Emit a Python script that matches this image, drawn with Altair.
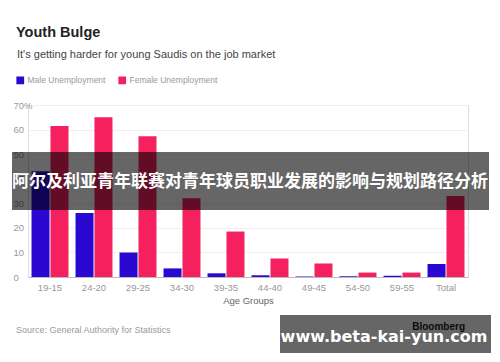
import altair as alt
import pandas as pd

categories = ["19-15", "24-20", "29-25", "34-30", "39-35", "44-40", "49-45", "54-50", "59-55", "Total"]
male = [43, 26, 10, 3.5, 1.5, 0.7, 0.2, 0.3, 0.5, 5.3]
female = [61.5, 65, 57.3, 32, 18.5, 7.5, 5.5, 1.8, 1.8, 33]
series_names = ["Male Unemployment", "Female Unemployment"]
series_colors = ["#2a08d2", "#f5215e"]
y_ticks = [0, 10, 20, 30, 40, 50, 60, 70]

rows = []
for i, c in enumerate(categories):
    rows.append({"age": c, "series": series_names[0], "value": male[i]})
    rows.append({"age": c, "series": series_names[1], "value": female[i]})
df = pd.DataFrame(rows)

FONT = "Liberation Sans"

bars = alt.Chart(df).mark_bar().encode(
    x=alt.X("age:N", sort=categories,
            scale=alt.Scale(paddingInner=0.16, paddingOuter=0.08),
            axis=alt.Axis(title="Age Groups", labelAngle=0, tickSize=0, ticks=False,
                          labelPadding=5, labelFontSize=9.5, labelColor="#999",
                          titleFontSize=9.5, titleFontWeight="normal", titleColor="#666",
                          titlePadding=4, domainColor="#bbb", grid=False)),
    xOffset=alt.XOffset("series:N", sort=series_names, scale=alt.Scale(paddingInner=0.05)),
    y=alt.Y("value:Q", scale=alt.Scale(domain=[0, 70], nice=False),
            axis=alt.Axis(title=None, values=y_ticks, tickSize=0, ticks=False,
                          labelAlign="left", labelPadding=15, labelFontSize=9.5,
                          labelColor="#999", domain=False, gridColor="#f0f0f0",
                          labelExpr="datum.value == 70 ? '70%' : datum.label")),
    color=alt.Color("series:N", sort=series_names,
                    scale=alt.Scale(domain=series_names, range=series_colors),
                    legend=alt.Legend(orient="none", legendX=-12, legendY=-29,
                                      direction="horizontal", title=None,
                                      symbolType="square", symbolSize=60,
                                      symbolStrokeWidth=0, symbolOpacity=1,
                                      labelFontSize=8.5, labelColor="#999",
                                      labelOffset=3, columnPadding=12, padding=0)),
)

one = alt.Data(values=[{}])

def txt(text, x, y, size, color, weight="normal", align="left", font=FONT):
    return alt.Chart(one).mark_text(
        text=text, align=align, baseline="middle", fontSize=size, color=color,
        fontWeight=weight, font=font
    ).encode(x=alt.value(x), y=alt.value(y))

def box(x1, x2, y1, y2):
    return alt.Chart(one).mark_rect(color="black", opacity=0.6).encode(
        x=alt.value(x1), x2=alt.value(x2), y=alt.value(y1), y2=alt.value(y2))

title = txt("Youth Bulge", -12, -72, 14.5, "#222", weight="bold")
subtitle = txt("It's getting harder for young Saudis on the job market", -11, -50, 11, "#444")
source = txt("Source: General Authority for Statistics", -12, 225, 9, "#999")
bloomberg = txt("Bloomberg", 437, 222, 10, "#222", weight="bold", align="right")

banner = box(-16, 461, 47, 105)
banner_text = txt("阿尔及利亚青年联赛对青年球员职业发展的影响与规划路径分析", 222, 77, 17,
                  "white", weight="bold", align="center", font="Noto Sans CJK SC")
wm = box(252, 463, 210, 248)
wm_text = txt("www.beta-kai-yun.com", 356, 232, 16, "white", weight="bold",
              align="center", font="DejaVu Sans")

chart = alt.layer(
    bars, title, subtitle, source, bloomberg, banner, banner_text, wm, wm_text
).properties(
    width=440, height=172,
    autosize=alt.AutoSizeParams(type="none"),
    padding={"left": 28, "top": 105, "right": 32, "bottom": 85},
).configure_view(stroke=None).configure(font=FONT, background="white")

chart.save("out.html", embed_options={"renderer": "svg", "actions": False})
